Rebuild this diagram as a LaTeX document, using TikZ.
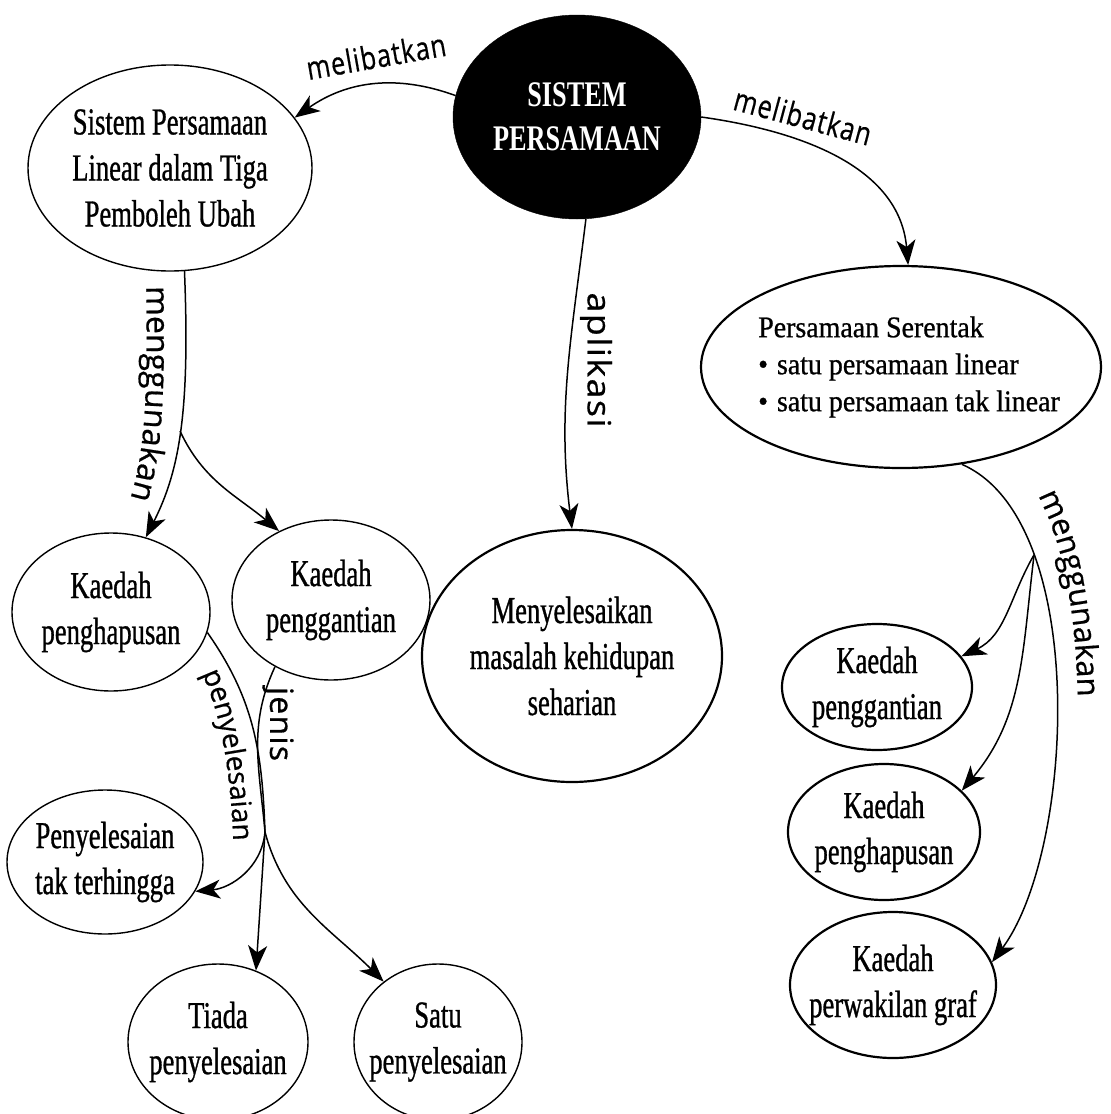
\documentclass[tikz,border=0pt]{standalone}
\usepackage{fontspec}
\usepackage{graphicx}
\setmainfont{Liberation Serif}[FakeStretch=0.70, FakeBold=0.8]
\newfontfamily\psfont{Liberation Serif}[FakeStretch=0.93, FakeBold=0.8]
\newfontfamily\bkfont{Liberation Serif}[FakeStretch=0.73]
\newfontfamily\hand{Open Sans}[LetterSpace=4, FakeBold=0.6]
\usetikzlibrary{shapes.geometric,arrows.meta,decorations.text}
\newcommand\squeeze[2]{\scalebox{#1}[1]{#2}}

\begin{document}
\begin{tikzpicture}[x=1pt,y=1pt,
  bubble/.style={draw, ellipse, line width=1.4pt, inner sep=-40pt, align=center,
    font=\fontsize{38}{46}\selectfont},
  thick bubble/.style={bubble, line width=2.2pt},
  conn/.style={line width=1.5pt, -{Stealth[length=25pt,width=19pt,inset=7pt]}},
  link/.style={line width=1.5pt},
  lbl/.style={inner sep=0pt, font=\hand\fontsize{32}{32}\selectfont},
  curved label/.style={decorate, decoration={text along path, text align=center,
    text format delimiters={|}{|}, text={|\hand\fontsize{#1}{#1}\selectfont|}}},
]
\useasboundingbox (0,0) rectangle (1111,-1114);

% central topic
\node[draw, fill=black, ellipse, inner sep=-40pt, minimum width=248pt, minimum height=204pt,
  text=white, align=center, font=\bkfont\bfseries\fontsize{36}{44}\selectfont] (bk) at (577,-117) {SISTEM\\PERSAMAAN};

% concepts
\node[bubble, minimum width=284pt, minimum height=206pt] (spl) at (170,-168) {Sistem Persamaan\\Linear dalam Tiga\\Pemboleh Ubah};
\node[thick bubble, align=left, font=\psfont\fontsize{30}{37}\selectfont, minimum width=400pt, minimum height=202pt] (ps) at (901,-367)
  {\hspace*{16pt}Persamaan Serentak\\\hspace*{16pt}\textbullet\hspace*{9pt}satu persamaan linear\\\hspace*{16pt}\textbullet\hspace*{9pt}satu persamaan tak linear};
\node[bubble, minimum width=198pt, minimum height=158pt] (kp) at (111,-612) {Kaedah\\penghapusan};
\node[bubble, minimum width=198pt, minimum height=160pt] (kg) at (331,-600) {Kaedah\\penggantian};
\node[thick bubble, minimum width=300pt, minimum height=252pt] (mn) at (572,-656) {Menyelesaikan\\masalah kehidupan\\seharian};
\node[bubble, minimum width=196pt, minimum height=144pt] (pt) at (105,-862) {Penyelesaian\\tak terhingga};
\node[bubble, minimum width=180pt, minimum height=156pt] (td) at (218,-1042) {Tiada\\penyelesaian};
\node[bubble, minimum width=168pt, minimum height=156pt] (st) at (438,-1042) {Satu\\penyelesaian};
\node[thick bubble, minimum width=190pt, minimum height=126pt] (rg) at (877,-687) {Kaedah\\penggantian};
\node[thick bubble, minimum width=192pt, minimum height=136pt] (rh) at (884,-832) {Kaedah\\penghapusan};
\node[thick bubble, minimum width=206pt, minimum height=146pt] (gf) at (893,-985) {Kaedah\\perwakilan graf};

% connectors
\draw[conn] (bk.170) to[out=160,in=35] (spl.22);
\draw[conn] (bk.0) to[out=-8,in=95] (ps.86);
\draw[conn] (bk.-85) to[out=-97,in=97] (mn.north);

\draw[conn] (spl.-82) .. controls (190,-410) and (180,-470) .. (kp.65) coordinate[pos=0.5] (b1);
\draw[conn] (b1) to[out=-65,in=140] (kg.127);

\coordinate (jn) at (265,-832);
\draw[link] (kp.-12) to[out=-55,in=92] (jn);
\draw[link] (kg.-130) to[out=-115,in=95] (jn);
\draw[conn] (jn) to[out=-95,in=5] (pt.-18);
\draw[conn] (jn) -- (td.62);
\draw[conn] (jn) to[out=-75,in=135] (st.132);

\draw[conn] (ps.-58) .. controls (1090,-520) and (1075,-850) .. (gf.13) coordinate[pos=0.26] (b2);
\draw[conn] (b2) to[out=-120,in=25] (rg.20);
\draw[conn] (b2) to[out=-97,in=50] (rh.28);

% connector labels
\node[lbl, rotate=10] (l1) at (376,-56) {\squeeze{0.79}{melibatkan}};
\node[lbl, rotate=-15] (l2) at (803,-116) {\squeeze{0.79}{melibatkan}};
\node[lbl, rotate=-90] (l3) at (596,-360) {\squeeze{1.12}{aplikasi}};
\node[lbl, rotate=-90] (l5) at (278,-724) {jenis};
\path[curved label=32, decoration={text={|\hand\fontsize{32}{32}\selectfont|menggunakan}}]
  (146,-272) .. controls (148,-400) and (146,-455) .. (126,-512);
\path[curved label=28, decoration={text={|\hand\fontsize{28}{28}\selectfont|penyelesaian}}]
  (192,-655) .. controls (220,-700) and (232,-770) .. (234,-862);
\path[curved label=31, decoration={text={|\hand\fontsize{31}{31}\selectfont|menggunakan}}]
  (1024,-472) .. controls (1060,-525) and (1078,-600) .. (1078,-724);
\end{tikzpicture}
\end{document}
